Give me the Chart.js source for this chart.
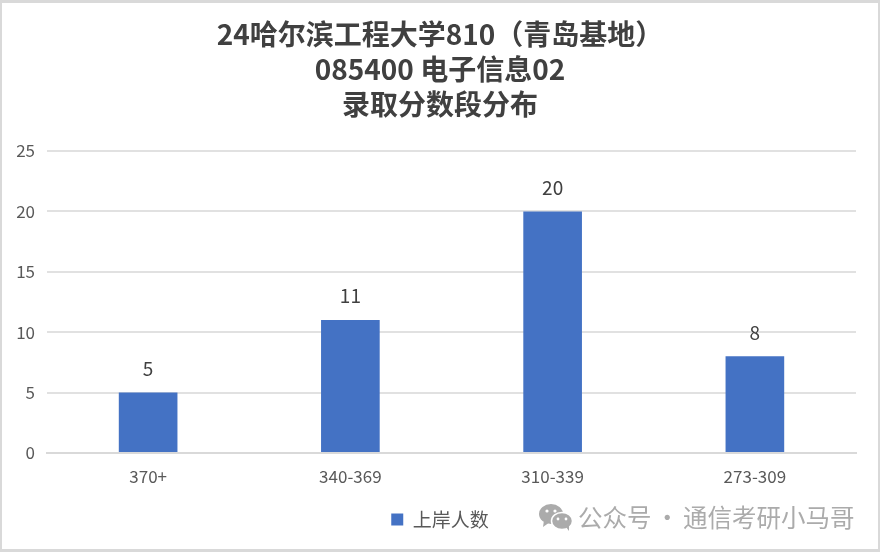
<!DOCTYPE html>
<html>
<head>
<meta charset="utf-8">
<script src="https://cdn.jsdelivr.net/npm/chart.js@4"></script>
<style>
  html, body { margin: 0; padding: 0; background: #fff; }
  #wrap { position: relative; width: 880px; height: 552px; overflow: hidden; }
  #chart { position: absolute; left: 0; top: 0; }
  #frame { position: absolute; left: 0; top: 0; width: 876px; height: 546px; border: 2px solid #d9d9d9; border-top-width: 3px; border-bottom-width: 3px; pointer-events: none; }
  #mark { position: absolute; left: 539px; top: 502px; height: 30px; color: #ababab; font: 24.5px/30px "Noto Sans CJK SC"; white-space: nowrap; word-spacing: -2px; }
  #mark svg { position: absolute; left: 0; top: 1px; }
  #mark span { margin-left: 39px; }
</style>
</head>
<body>
<div id="wrap">
  <canvas id="chart" width="880" height="552"></canvas>
  <div id="frame"></div>
  <div id="mark">
    <svg width="34" height="28" viewBox="0 0 34 28">
      <ellipse cx="12" cy="11" rx="12" ry="10" fill="#ababab"/>
      <path d="M5 17 L4 24 L11 19 Z" fill="#ababab"/>
      <ellipse cx="23" cy="18" rx="10.5" ry="8.6" fill="#ababab" stroke="#fff" stroke-width="1.5"/>
      <path d="M27 24 L30 28 L30 22 Z" fill="#ababab"/>
      <circle cx="8" cy="8" r="1.6" fill="#fff"/><circle cx="16" cy="8" r="1.6" fill="#fff"/>
      <circle cx="19" cy="16" r="1.4" fill="#fff"/><circle cx="27" cy="16" r="1.4" fill="#fff"/>
    </svg>
    <span>公众号 · 通信考研小马哥</span>
  </div>
</div>
<script>
var categories = ["370+", "340-369", "310-339", "273-309"];
var admitted = [5, 11, 20, 8];
var titleLines = ["24哈尔滨工程大学810（青岛基地）", "085400 电子信息02", "录取分数段分布"];
var seriesName = "上岸人数";
var cjk = '"Noto Sans CJK SC", "Noto Sans", sans-serif';

// value labels above each bar
var barLabels = {
  id: "barLabels",
  afterDatasetsDraw: function (chart) {
    var ctx = chart.ctx;
    var meta = chart.getDatasetMeta(0);
    ctx.save();
    ctx.font = "19px " + cjk;
    ctx.fillStyle = "#404040";
    ctx.textAlign = "center";
    ctx.textBaseline = "middle";
    meta.data.forEach(function (bar, i) {
      ctx.fillText(admitted[i], bar.x, bar.y - 24);
    });
    ctx.restore();
  }
};

// title and legend are centred on the whole page, not on the space left of the right padding
var centerOnPage = {
  id: "centerOnPage",
  afterLayout: function (chart) {
    [chart.titleBlock, chart.legend].forEach(function (box) {
      box.left += 12;
      box.right += 12;
    });
  }
};

var ctx = document.getElementById("chart").getContext("2d");
var chart = new Chart(ctx, {
  type: "bar",
  data: {
    labels: categories,
    datasets: [{
      label: seriesName,
      data: admitted,
      backgroundColor: "#4472c4",
      categoryPercentage: 1,
      barPercentage: 0.29
    }]
  },
  options: {
    responsive: false,
    animation: false,
    layout: { padding: { left: 0, right: 24, top: 17, bottom: 13 } },
    plugins: {
      title: {
        display: true,
        text: titleLines,
        color: "#404040",
        font: { size: 28, weight: "bold", family: cjk, lineHeight: 1.25 },
        padding: { top: 0, bottom: 29 }
      },
      legend: {
        position: "bottom",
        labels: {
          boxWidth: 12,
          boxHeight: 12,
          color: "#595959",
          font: { size: 19, family: cjk }
        }
      },
      tooltip: { enabled: false }
    },
    scales: {
      x: {
        afterFit: function (s) { s.height = 47; },
        grid: { display: false, drawTicks: false },
        border: { color: "#d9d9d9", width: 2 },
        ticks: { color: "#595959", padding: 13, font: { size: 17, family: cjk } }
      },
      y: {
        min: 0,
        max: 25,
        afterFit: function (s) { s.width = 47; },
        grid: { color: "#e1e1e1", lineWidth: 2, drawTicks: false },
        border: { display: false },
        ticks: { stepSize: 5, color: "#595959", padding: 12, font: { size: 17, family: cjk } }
      }
    }
  },
  plugins: [barLabels, centerOnPage]
});
</script>
</body>
</html>
